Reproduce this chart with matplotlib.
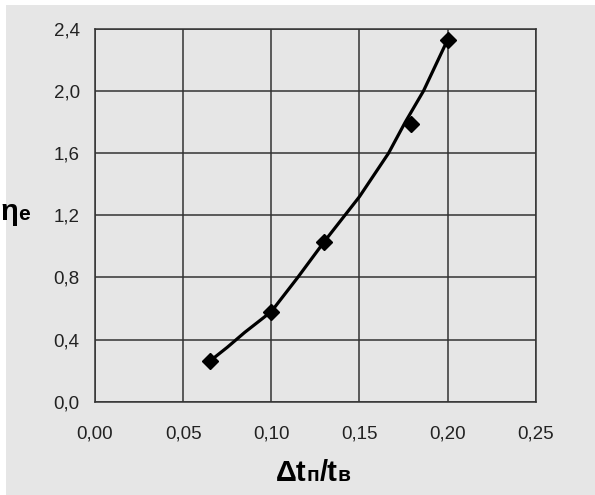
import matplotlib
matplotlib.use("Agg")
import matplotlib.pyplot as plt
from matplotlib.patches import Rectangle
from matplotlib.ticker import FixedLocator

# measured points
x_pts = [0.065, 0.100, 0.130, 0.179, 0.200]
y_pts = [0.26, 0.58, 1.03, 1.79, 2.33]

# smooth curve
x_curve = [0.065, 0.075, 0.085, 0.100, 0.115, 0.130, 0.150, 0.1665, 0.176, 0.1863, 0.200]
y_curve = [0.26, 0.35, 0.447, 0.58, 0.80, 1.03, 1.32, 1.60, 1.80, 2.00, 2.33]

x_ticks = [0.00, 0.05, 0.10, 0.15, 0.20, 0.25]
y_ticks = [0.0, 0.4, 0.8, 1.2, 1.6, 2.0, 2.4]

bg = '#e6e6e6'
fig = plt.figure(figsize=(5.95, 4.95), dpi=100)
fig.patch.set_facecolor('white')
fig.patches.append(Rectangle((6/595, 0), 1 - 6/595, 1 - 5/495,
                             transform=fig.transFigure, facecolor=bg,
                             edgecolor='none', zorder=-10))

ax = fig.add_axes([95/595, 1 - 401.7/495, 440.7/595, 372.7/495])
ax.set_facecolor(bg)
ax.set_xlim(0, 0.25)
ax.set_ylim(0, 2.4)
ax.xaxis.set_major_locator(FixedLocator(x_ticks))
ax.yaxis.set_major_locator(FixedLocator(y_ticks))
ax.set_xticklabels([('%.2f' % v).replace('.', ',') for v in x_ticks])
ax.set_yticklabels([('%.1f' % v).replace('.', ',') for v in y_ticks])
ax.tick_params(length=0, labelsize=13.5, colors='#222222')
ax.tick_params(axis='x', pad=17)
ax.tick_params(axis='y', pad=11)
for lab in ax.get_xticklabels() + ax.get_yticklabels():
    lab.set_fontfamily('Liberation Sans')
ax.grid(True, color='#333333', lw=1.1)
for s in ax.spines.values():
    s.set_color('#333333')
    s.set_linewidth(1.1)

ax.plot(x_curve, y_curve, color='black', lw=2.3, zorder=3)
ax.plot(x_pts, y_pts, ls='none', marker='D', ms=8, color='black', zorder=4)


def label(parts, xc, yb):
    # parts: list of (text, fontsize); drawn on a shared baseline, centred at xc
    fig.canvas.draw()
    r = fig.canvas.get_renderer()
    txts = [fig.text(0, yb, s, fontsize=fs, fontweight='bold',
                     family='Liberation Sans', va='baseline', ha='left')
            for s, fs in parts]
    ws = [t.get_window_extent(r).width for t in txts]
    x = xc * 595 - sum(ws) / 2
    for t, w in zip(txts, ws):
        t.set_x(x / 595)
        x += w


label([('Δt', 21), ('п', 15), ('/t', 21), ('в', 15)], 313/595, 1 - 481/495)
label([('η', 21), ('e', 15)], 15/595, 1 - 220/495)

fig.savefig('out.png', dpi=100)
